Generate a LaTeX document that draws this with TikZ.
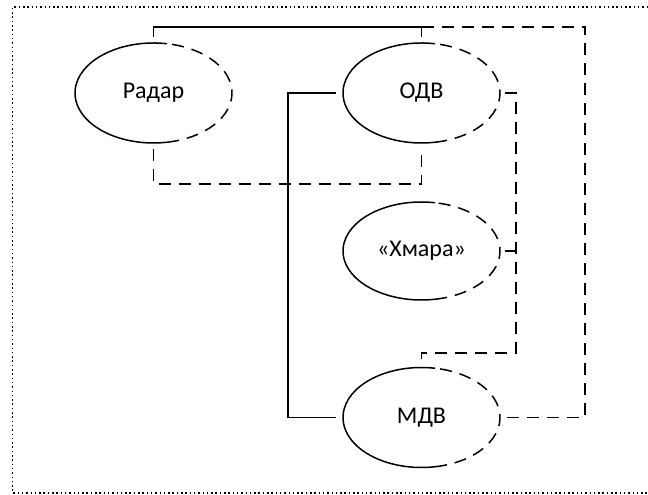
\documentclass[tikz,border=0pt]{standalone}
\usepackage{fontspec}
\setmainfont{Carlito}
\usetikzlibrary{shapes.geometric}
\begin{document}
\begin{tikzpicture}[x=1pt,y=1pt,
  every node/.style={font=\fontsize{24}{27}\selectfont},
  usecase/.style={ellipse,draw=none,minimum width=157,minimum height=100,inner sep=0,outer sep=0},
  ln/.style={line width=1.5pt,line cap=butt},
  dsh/.style={line width=1.5pt,dash pattern=on 12pt off 8pt},
  frame/.style={line width=1.5pt,dash pattern=on 1.5pt off 2.8pt}]
\useasboundingbox (0,0) rectangle (648,495);
\draw[frame] (648,488) -- (12.5,488) -- (12.5,2) -- (648,2);
% nodes
\node[usecase] (R) at (153.5,402) {Радар};
\node[usecase] (O) at (421.5,402) {ОДВ};
\node[usecase,minimum height=98] (X) at (421.5,244) {«Хмара»};
\node[usecase] (M) at (421.5,77.5) {МДВ};
% outlines: left solid, right dashed
\foreach \n/\ry in {R/50,O/50,X/49,M/50}{
  \draw[ln] (\n.center) ++(80:78.5 and \ry) arc[start angle=80,end angle=280,x radius=78.5,y radius=\ry];
  \draw[dsh] (\n.center) ++(-80:78.5 and \ry) arc[start angle=-80,end angle=80,x radius=78.5,y radius=\ry];
}
\coordinate (topR) at (585,468);
\coordinate (midR) at (516,402);
% connectors
\draw[ln] ([yshift=6]R.north) -- ++(0,10) -| ([yshift=6]O.north);
\draw[dsh] ([yshift=16]O.north) -- (topR) |- ([xshift=5]M.east);
\draw[dsh] ([yshift=-6]R.south) -- ++(0,-35) -| ([yshift=-6]O.south);
\draw[ln] ([xshift=-7]O.west) -- ++(-48,0) |- ([xshift=-7]M.west);
\draw[dsh] ([xshift=5]O.east) -- (midR) -- (516,142) -| ([yshift=6]M.north);
\draw[dsh] ([xshift=5]X.east) -- (X.east -| midR);
\end{tikzpicture}
\end{document}
